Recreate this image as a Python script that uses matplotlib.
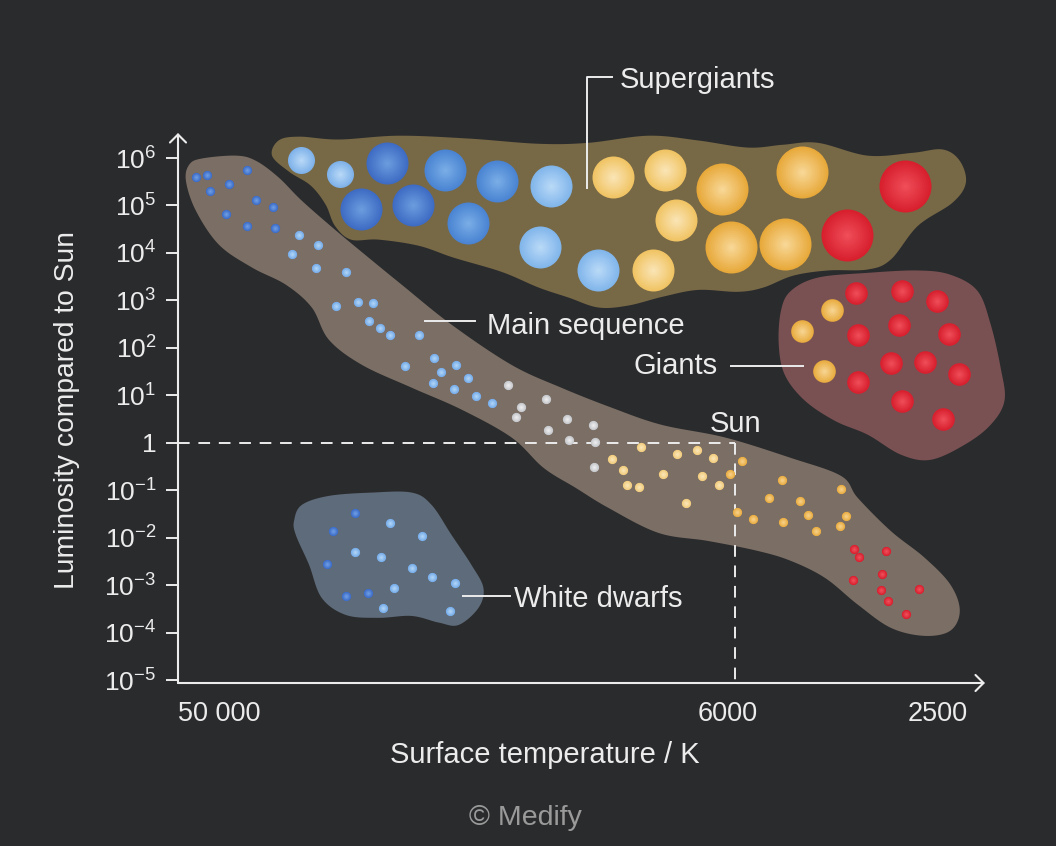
import numpy as np
import matplotlib
matplotlib.use("Agg")
import matplotlib.pyplot as plt
from matplotlib.colors import to_rgb
from matplotlib.ticker import NullLocator

# ---- star positions: temperature (K) and log10(L / L_sun) ----
ms_deep_blue_t = [55000, 52500, 52000, 48000, 44500, 42900, 40000, 48600, 44500, 39600]
ms_deep_blue_logl = [5.59, 5.65, 5.31, 5.46, 5.75, 5.12, 4.97, 4.81, 4.57, 4.53]

ms_light_blue_t = [35800, 33100, 36900, 33400, 29400, 30700, 28000, 26300, 26800, 25600, 24500,
                   21700, 20400, 23000, 19800, 18600, 17700, 20500, 18800, 17100, 16000]
ms_light_blue_logl = [4.38, 4.17, 3.98, 3.69, 3.60, 2.89, 2.97, 2.95, 2.57, 2.42, 2.28,
                      2.28, 1.79, 1.62, 1.50, 1.64, 1.37, 1.26, 1.14, 0.99, 0.84]

ms_white_t = [15000, 14200, 14500, 12800, 11700, 12700, 10500, 11600, 10400, 10450]
ms_white_logl = [1.22, 0.76, 0.55, 0.93, 0.51, 0.27, 0.38, 0.06, 0.02, -0.51]

ms_pale_yellow_t = [8600, 9700, 9260, 7840, 9110, 8670, 7400, 7120, 6810, 6370, 6670, 6210]
ms_pale_yellow_logl = [-0.08, -0.34, -0.57, -0.65, -0.89, -0.93, -0.23, -1.26, -0.15, -0.32, -0.70, -0.89]

ms_orange_t = [5930, 5640, 5760, 5390, 4780, 5040, 4430, 4290, 4760, 4150, 3740, 3660, 3750]
ms_orange_logl = [-0.65, -0.38, -1.45, -1.60, -0.78, -1.16, -1.22, -1.52, -1.67, -1.86, -0.97, -1.54, -1.75]

ms_red_t = [3530, 3470, 3100, 3550, 3150, 3160, 3070, 2700, 2850]
ms_red_logl = [-2.23, -2.40, -2.28, -2.89, -2.76, -3.10, -3.33, -3.08, -3.60]

wd_deep_blue_t = [28300, 31100, 31900, 29500, 26900]
wd_deep_blue_logl = [-1.48, -1.86, -2.55, -3.22, -3.16]
wd_light_blue_t = [24500, 21400, 28300, 25400, 22400, 20600, 18700, 24100, 25200, 19100]
wd_light_blue_logl = [-1.69, -1.96, -2.30, -2.40, -2.63, -2.82, -2.95, -3.06, -3.48, -3.54]

giant_yellow_t = [3880, 4400, 4010]
giant_yellow_logl = [2.80, 2.36, 1.52]
giant_red_t = [3510, 2890, 2500, 3480, 2930, 2380, 3030, 2630, 2280, 3480, 2900, 2440]
giant_red_logl = [3.16, 3.20, 2.99, 2.26, 2.49, 2.30, 1.67, 1.71, 1.45, 1.29, 0.89, 0.51]

sg_small_blue_t = [35500, 30200]
sg_small_blue_logl = [5.96, 5.67]
sg_deep_blue_t = [24800, 27600, 22300]
sg_deep_blue_logl = [5.90, 4.93, 5.02]
sg_mid_blue_t = [19500, 15700, 17700]
sg_mid_blue_logl = [5.75, 5.52, 4.62]
sg_pale_blue_t = [12500, 13100, 10300]
sg_pale_blue_logl = [5.42, 4.13, 3.63]
sg_pale_yellow_t = [9650, 7780, 7430, 8180]
sg_pale_yellow_logl = [5.61, 5.75, 4.70, 3.65]
sg_gold_t = [6130, 4400, 5910, 4720]
sg_gold_logl = [5.35, 5.71, 4.13, 4.19]
sg_red_t = [2860, 3640]
sg_red_logl = [5.42, 4.38]

sun_t = 5800
sun_l = 1.0

# ---- region outlines: log10(T), log10(L) ----
sg_zone_logt = [4.603, 4.591, 4.554, 4.482, 4.374, 4.247, 4.120, 4.030, 3.921, 3.831,
                3.741, 3.677, 3.614, 3.524, 3.442, 3.388, 3.357, 3.346, 3.370, 3.433,
                3.482, 3.524, 3.596, 3.659, 3.713, 3.759, 3.831, 3.894, 3.958, 4.012,
                4.066, 4.120, 4.187, 4.274, 4.337, 4.410, 4.460, 4.489, 4.506, 4.533, 4.572]
sg_zone_logl = [6.05, 6.37, 6.45, 6.39, 6.47, 6.41, 6.30, 6.32, 6.47, 6.37,
                6.22, 6.28, 6.32, 6.05, 6.11, 6.18, 5.94, 5.48, 5.06, 4.57,
                3.86, 3.65, 3.63, 3.52, 3.27, 3.18, 3.22, 3.08, 2.89, 2.85,
                3.06, 3.27, 3.60, 3.90, 4.15, 4.28, 4.28, 4.57, 5.02, 5.42, 5.71]

ms_zone_logt = [4.759, 4.753, 4.730, 4.668, 4.632, 4.591, 4.549, 4.487, 4.428, 4.368,
                4.278, 4.169, 4.079, 3.988, 3.898, 3.782, 3.663, 3.572, 3.542, 3.482,
                3.421, 3.374, 3.357, 3.374, 3.421, 3.482, 3.542, 3.601, 3.663, 3.723,
                3.813, 3.903, 3.994, 4.053, 4.111, 4.169, 4.260, 4.350, 4.440, 4.500,
                4.531, 4.578, 4.639, 4.699, 4.741]
ms_zone_logl = [5.52, 5.86, 5.99, 6.05, 5.94, 5.59, 5.10, 4.47, 3.90, 3.33,
                2.49, 1.64, 1.16, 0.74, 0.38, 0.11, -0.32, -0.70, -1.16, -1.86,
                -2.42, -2.99, -3.54, -3.96, -4.07, -3.90, -3.41, -2.85, -2.49, -2.28,
                -2.07, -1.90, -1.37, -0.95, -0.53, 0.11, 0.70, 1.16, 1.64, 2.17,
                2.85, 3.33, 3.69, 4.17, 4.89]

wd_zone_logt = [4.563, 4.549, 4.500, 4.422, 4.350, 4.314, 4.278, 4.242, 4.220, 4.229,
                4.265, 4.301, 4.350, 4.410, 4.469, 4.513, 4.536, 4.560]
wd_zone_logl = [-1.64, -1.31, -1.12, -1.05, -1.05, -1.31, -1.94, -2.57, -3.06, -3.48,
                -3.84, -3.79, -3.65, -3.69, -3.63, -3.27, -2.57, -1.94]

giant_zone_logt = [3.681, 3.663, 3.614, 3.524, 3.433, 3.374, 3.325, 3.301, 3.283, 3.276,
                   3.301, 3.348, 3.410, 3.464, 3.524, 3.583, 3.638, 3.674, 3.685]
giant_zone_logl = [2.78, 3.20, 3.48, 3.58, 3.63, 3.54, 3.20, 2.49, 1.58, 0.89,
                   0.38, -0.04, -0.36, -0.25, 0.17, 0.46, 0.89, 1.43, 2.07]

x_ticks = [50000, 6000, 2500]
x_tick_labels = ["50 000", "6000", "2500"]
y_exponents = list(range(-5, 7))

BG = "#2a2b2d"
FG = "#ececec"

plt.rcParams["font.family"] = ["Liberation Sans", "DejaVu Sans"]
plt.rcParams["mathtext.fontset"] = "custom"
plt.rcParams["mathtext.rm"] = "Liberation Sans"
plt.rcParams["mathtext.default"] = "regular"


def smooth_closed(xs, ys, n=16):
    # closed Catmull-Rom curve through the outline points
    p = np.column_stack([xs, ys])
    m = len(p)
    t = np.linspace(0, 1, n, endpoint=False)[:, None]
    out = []
    for i in range(m):
        p0, p1, p2, p3 = p[i - 1], p[i], p[(i + 1) % m], p[(i + 2) % m]
        out.append(0.5 * (2 * p1 + (-p0 + p2) * t + (2 * p0 - 5 * p1 + 4 * p2 - p3) * t ** 2
                          + (-p0 + 3 * p1 - 3 * p2 + p3) * t ** 3))
    return np.vstack(out)


def draw_zone(ax, logt, logl, color):
    pts = smooth_closed(logt, logl)
    ax.fill(10 ** pts[:, 0], 10 ** pts[:, 1], color=color, lw=0, zorder=1, clip_on=False)


def draw_stars(ax, temps, logl, radius_px, edge, centre, z, layers=14):
    edge = np.array(to_rgb(edge))
    centre = np.array(to_rgb(centre))
    x = np.asarray(temps, float)
    y = 10.0 ** np.asarray(logl)
    for k, f in enumerate(np.linspace(1.0, 0.06, layers)):
        d = 2 * radius_px * f * 0.72
        col = centre + (edge - centre) * f
        ax.scatter(x, y, s=d ** 2, color=col, linewidths=0, zorder=z + k * 0.001, clip_on=False)


fig = plt.figure(figsize=(10.56, 8.46), dpi=100, facecolor=BG)
ax = fig.add_axes([178 / 1056, 1 - 683 / 846, (985 - 178) / 1056, (683 - 133) / 846])
ax.set_facecolor(BG)
ax.set_xscale("log")
ax.set_yscale("log")
ax.set_xlim(59340, 2048)
ax.set_ylim(10 ** -5.063, 10 ** 6.527)

draw_zone(ax, sg_zone_logt, sg_zone_logl, "#776846")
draw_zone(ax, ms_zone_logt, ms_zone_logl, "#7b6e65")
draw_zone(ax, wd_zone_logt, wd_zone_logl, "#5e6b7a")
draw_zone(ax, giant_zone_logt, giant_zone_logl, "#7a5153")

# sun guide lines
ax.plot([59340, sun_t], [sun_l, sun_l], color=FG, lw=1.4, ls=(0, (6, 4.5)), zorder=2)
ax.plot([sun_t, sun_t], [sun_l, 10 ** -5.063], color=FG, lw=1.4, ls=(0, (6, 4.5)), zorder=2)

dot = 4.6
groups = [
    (ms_deep_blue_t, ms_deep_blue_logl, dot, "#3c6cc8", "#73a3e6"),
    (ms_light_blue_t, ms_light_blue_logl, dot, "#76acea", "#b7d9f8"),
    (ms_white_t, ms_white_logl, dot, "#c4c6ca", "#f3f3f3"),
    (ms_pale_yellow_t, ms_pale_yellow_logl, dot, "#f1cc7c", "#fce9bf"),
    (ms_orange_t, ms_orange_logl, dot, "#e9ac40", "#f8d692"),
    (ms_red_t, ms_red_logl, dot, "#d81f2e", "#f25560"),
    (wd_deep_blue_t, wd_deep_blue_logl, dot, "#3c6cc8", "#73a3e6"),
    (wd_light_blue_t, wd_light_blue_logl, dot, "#76acea", "#b7d9f8"),
    (giant_yellow_t, giant_yellow_logl, 11.3, "#e9ac40", "#f8d898"),
    (giant_red_t, giant_red_logl, 11.3, "#d81f2e", "#f0505b"),
    (sg_small_blue_t, sg_small_blue_logl, 13.5, "#7fb2ea", "#bcdcf8"),
    (sg_deep_blue_t, sg_deep_blue_logl, 21, "#3e6cc4", "#6e9fe0"),
    (sg_mid_blue_t, sg_mid_blue_logl, 21, "#4a84d2", "#7cb0e8"),
    (sg_pale_blue_t, sg_pale_blue_logl, 21, "#82b6eb", "#bcdcf8"),
    (sg_pale_yellow_t, sg_pale_yellow_logl, 21, "#f0c464", "#fbe7bb"),
    (sg_gold_t, sg_gold_logl, 26, "#e8a93b", "#f9da9c"),
    (sg_red_t, sg_red_logl, 26, "#d81f2e", "#f0505b"),
]
for i, (t, l, r, e, c) in enumerate(groups):
    draw_stars(ax, t, l, r, e, c, z=3 + i * 0.05)

# axes
for sp in ax.spines.values():
    sp.set_visible(False)
arrow = dict(arrowstyle="->,head_length=0.4,head_width=0.4", lw=1.5, color=FG,
             shrinkA=0, shrinkB=0, mutation_scale=14.5)
ax.annotate("", xy=(0, 1), xytext=(0, 0), xycoords="axes fraction", arrowprops=arrow, zorder=6)
ax.annotate("", xy=(1, 0), xytext=(0, 0), xycoords="axes fraction", arrowprops=arrow, zorder=6)

ax.set_yticks([10.0 ** k for k in y_exponents])
ax.set_yticklabels(["1" if k == 0 else "$10^{%d}$" % k for k in y_exponents])
ax.set_xticks(x_ticks)
ax.set_xticklabels(x_tick_labels)
ax.xaxis.set_minor_locator(NullLocator())
ax.yaxis.set_minor_locator(NullLocator())
ax.tick_params(axis="y", length=8.6, width=1.4, color=FG, labelcolor=FG, labelsize=19, pad=7)
ax.tick_params(axis="x", length=0, labelcolor=FG, labelsize=19.5, pad=13)

# labels (text centres nudged down ~4 px to sit like the reference)
txt = dict(color=FG, fontsize=21)
ax.plot([10 ** 3.987, 10 ** 4.0323, 10 ** 4.0323], [10 ** 7.713, 10 ** 7.713, 10 ** 5.374],
        color=FG, lw=1.4, clip_on=False, zorder=6)
ax.text(10 ** 3.9726, 10 ** 7.64, "Supergiants", ha="left", va="center", **txt)
ax.plot([10 ** 4.3258, 10 ** 4.2352], [10 ** 2.571, 10 ** 2.571], color=FG, lw=1.4, zorder=6)
ax.text(10 ** 4.2135, 10 ** 2.47, "Main sequence", ha="left", va="center", **txt)
ax.plot([10 ** 3.7715, 10 ** 3.641], [10 ** 1.623, 10 ** 1.623], color=FG, lw=1.4, zorder=6)
ax.text(10 ** 3.795, 10 ** 1.61, "Giants", ha="right", va="center", **txt)
ax.plot([10 ** 4.257, 10 ** 4.172], [10 ** -3.224, 10 ** -3.224], color=FG, lw=1.4, zorder=6)
ax.text(10 ** 4.1646, 10 ** -3.30, "White dwarfs", ha="left", va="center", **txt)
ax.text(sun_t, 10 ** 0.385, "Sun", ha="center", va="center", **txt)

fig.text(67 / 1056, 1 - 410 / 846, "Luminosity compared to Sun", rotation=90,
         ha="center", va="center", color=FG, fontsize=20.3)
fig.text(545 / 1056, 1 - 755 / 846, "Surface temperature / K", ha="center", va="center", **txt)
fig.text(525 / 1056, 1 - 818 / 846, "© Medify", ha="center", va="center", color="#9a9a9a", fontsize=20.5)

fig.savefig("out.png", dpi=100, facecolor=BG)
